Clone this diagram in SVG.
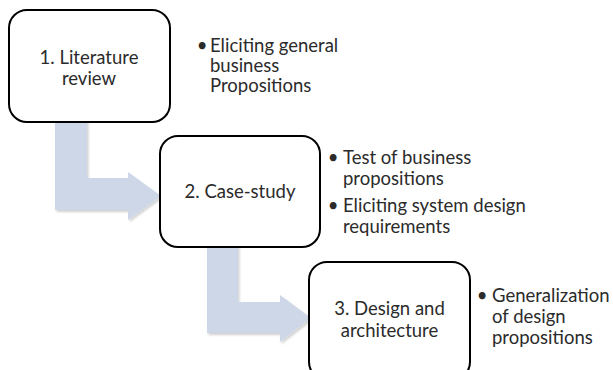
<svg xmlns="http://www.w3.org/2000/svg" width="613" height="370" viewBox="0 0 613 370">
  <defs>
    <filter id="soft" x="-10%" y="-10%" width="130%" height="130%">
      <feDropShadow dx="1.5" dy="2" stdDeviation="1.2" flood-color="#000" flood-opacity="0.18"/>
    </filter>
  </defs>
  <style>
    .bend { fill: #cdd7e7; filter: url(#soft); }
    .box { fill: #ffffff; stroke: #000000; stroke-width: 2; }
    .label { font-family: Lato, "Open Sans", "Liberation Sans", sans-serif; font-size: 18.5px; fill: #2b2b2b; }
    .mid { text-anchor: middle; }
  </style>
  <rect width="613" height="370" fill="#ffffff"/>

  <!-- bent block arrows between the stages -->
  <g id="connectors">
    <path class="bend" d="M55,120 L87,120 L87,178 L128,178 L128,172 L161,196 L128,220 L128,210 L55,210 Z"/>
    <path class="bend" d="M207,245 L238,245 L238,302 L280,302 L280,295 L311,318 L280,342 L280,333 L207,333 Z"/>
  </g>

  <g id="stage1">
    <rect class="box" x="9" y="10" width="161" height="112" rx="18" ry="18"/>
    <text class="label mid" x="89" y="64">1. Literature</text>
    <text class="label mid" x="89" y="85">review</text>
  </g>
  <g id="notes1">
    <text class="label mid" x="202" y="52">•</text>
    <text class="label" x="210" y="52">Eliciting general</text>
    <text class="label" x="210" y="72">business</text>
    <text class="label" x="210" y="92">Propositions</text>
  </g>

  <g id="stage2">
    <rect class="box" x="160" y="136" width="160" height="111" rx="18" ry="18"/>
    <text class="label mid" x="240" y="198">2. Case-study</text>
  </g>
  <g id="notes2">
    <text class="label mid" x="333" y="164">•</text>
    <text class="label" x="343" y="164">Test of business</text>
    <text class="label" x="343" y="185">propositions</text>
    <text class="label mid" x="333" y="212">•</text>
    <text class="label" x="343" y="212">Eliciting system design</text>
    <text class="label" x="343" y="233">requirements</text>
  </g>

  <g id="stage3">
    <rect class="box" x="309" y="262" width="161" height="118" rx="18" ry="18"/>
    <text class="label mid" x="389.5" y="315">3. Design and</text>
    <text class="label mid" x="389.5" y="337">architecture</text>
  </g>
  <g id="notes3">
    <text class="label mid" x="482" y="302">•</text>
    <text class="label" x="492" y="302">Generalization</text>
    <text class="label" x="492" y="323">of design</text>
    <text class="label" x="492" y="344">propositions</text>
  </g>
</svg>
